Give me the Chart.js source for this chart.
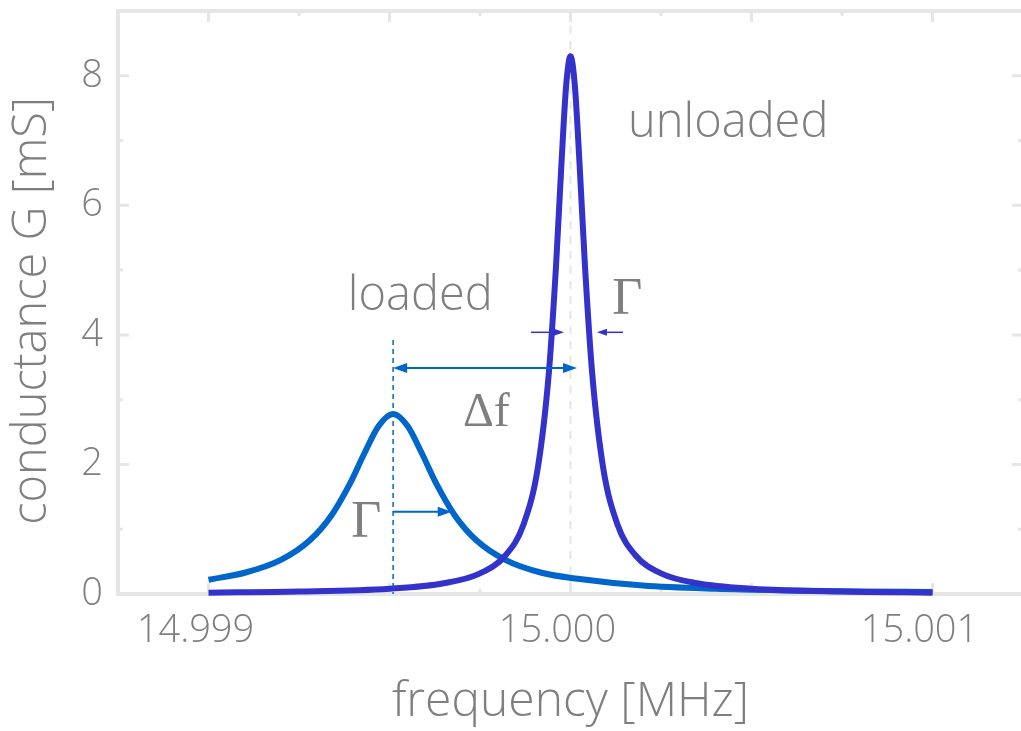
<!DOCTYPE html>
<html>
<head>
<meta charset="utf-8">
<script src="https://cdn.jsdelivr.net/npm/chart.js@4.4.1/dist/chart.umd.min.js"></script>
<style>
  html, body { margin: 0; padding: 0; background: #fff; overflow: hidden; }
  #wrap { width: 1023px; height: 731px; }
</style>
</head>
<body>
<div id="wrap"><canvas id="chart"></canvas></div>
<script>
// frequency [MHz] and conductance G [mS]
const unloadedFreq = [14.999000, 14.999250, 14.999500, 14.999650, 14.999750, 14.999820, 14.999870, 14.999910, 14.999940, 14.999960, 14.999975, 14.999988, 15.000000, 15.000012, 15.000025, 15.000040, 15.000060, 15.000090, 15.000130, 15.000180, 15.000250, 15.000350, 15.000500, 15.000750, 15.001000];
const unloadedG = [0.021, 0.037, 0.082, 0.166, 0.319, 0.595, 1.070, 1.958, 3.402, 5.061, 6.640, 7.848, 8.30, 7.848, 6.640, 5.061, 3.402, 1.958, 1.070, 0.595, 0.319, 0.166, 0.082, 0.037, 0.021];

const loadedFreq = [14.999000, 14.999100, 14.999200, 14.999280, 14.999340, 14.999390, 14.999430, 14.999470, 14.999510, 14.999550, 14.999590, 14.999630, 14.999680, 14.999740, 14.999820, 14.999920, 15.000020, 15.000200, 15.000400, 15.000600, 15.000800, 15.001000];
const loadedG = [0.221, 0.328, 0.527, 0.830, 1.217, 1.695, 2.165, 2.595, 2.78, 2.595, 2.165, 1.695, 1.217, 0.830, 0.527, 0.328, 0.235, 0.130, 0.080, 0.055, 0.040, 0.030];

const xTickLabels = [14.999, 15.000, 15.001];
const yTickLabels = [0, 2, 4, 6, 8];

const TEXT_GREY = '#7f7f7f';
const FRAME_GREY = '#e6e6e6';
const LOADED_BLUE = '#0066cc';
const UNLOADED_BLUE = '#3333cc';
const SANS = "'Open Sans', sans-serif";
const SERIF = "'Liberation Serif', 'DejaVu Serif', serif";

function toPoints(xs, ys) {
    return xs.map((x, i) => ({ x: x, y: ys[i] }));
}

function arrow(ctx, x1, y1, x2, y2, color, width, headLen, headHalf) {
    const ang = Math.atan2(y2 - y1, x2 - x1);
    ctx.save();
    ctx.strokeStyle = color;
    ctx.fillStyle = color;
    ctx.lineWidth = width;
    ctx.beginPath();
    ctx.moveTo(x1, y1);
    ctx.lineTo(x2 - Math.cos(ang) * headLen * 0.8, y2 - Math.sin(ang) * headLen * 0.8);
    ctx.stroke();
    ctx.translate(x2, y2);
    ctx.rotate(ang);
    ctx.beginPath();
    ctx.moveTo(0, 0);
    ctx.lineTo(-headLen, -headHalf);
    ctx.lineTo(-headLen, headHalf);
    ctx.closePath();
    ctx.fill();
    ctx.restore();
}

// frame with inside tick marks (under the curves)
const framePlugin = {
    id: 'frame',
    beforeDatasetsDraw(chart) {
        const ctx = chart.ctx;
        const a = chart.chartArea;
        const xs = chart.scales.x;
        const ys = chart.scales.y;
        ctx.save();
        ctx.strokeStyle = FRAME_GREY;

        // dashed line at 15.000
        ctx.lineWidth = 2;
        ctx.setLineDash([8, 7]);
        ctx.beginPath();
        ctx.moveTo(xs.getPixelForValue(15.000), a.top);
        ctx.lineTo(xs.getPixelForValue(15.000), a.bottom);
        ctx.stroke();
        ctx.setLineDash([]);

        ctx.lineWidth = 3;
        for (let v = 14.99875; v <= 15.00125 + 1e-9; v += 0.00025) {
            const major = Math.abs(v / 0.0005 - Math.round(v / 0.0005)) < 1e-3;
            const len = major ? 11 : 5;
            const px = xs.getPixelForValue(v);
            if (px <= a.left + 2 || px >= a.right - 2) continue;
            ctx.beginPath();
            ctx.moveTo(px, a.top);
            ctx.lineTo(px, a.top + len);
            ctx.moveTo(px, a.bottom);
            ctx.lineTo(px, a.bottom - len);
            ctx.stroke();
        }
        for (let v = 1; v <= 8; v++) {
            const len = v % 2 === 0 ? 11 : 5;
            const py = ys.getPixelForValue(v);
            ctx.beginPath();
            ctx.moveTo(a.left, py);
            ctx.lineTo(a.left + len, py);
            ctx.moveTo(a.right, py);
            ctx.lineTo(a.right - len, py);
            ctx.stroke();
        }

        ctx.lineWidth = 4;
        ctx.beginPath();
        ctx.moveTo(a.right, a.top);
        ctx.lineTo(a.left, a.top);
        ctx.lineTo(a.left, a.bottom);
        ctx.lineTo(a.right, a.bottom);
        ctx.stroke();
        ctx.restore();
    }
};

// labels, arrows and guide lines on top of the curves
const annotationPlugin = {
    id: 'notes',
    afterDatasetsDraw(chart) {
        const ctx = chart.ctx;
        const xs = chart.scales.x;
        const ys = chart.scales.y;
        const X = v => xs.getPixelForValue(v);
        const Y = v => ys.getPixelForValue(v);
        const loadedCentre = 14.99951;

        ctx.save();
        // loaded resonance marker
        ctx.strokeStyle = LOADED_BLUE;
        ctx.lineWidth = 1.5;
        ctx.setLineDash([5, 4]);
        ctx.beginPath();
        ctx.moveTo(X(loadedCentre), Y(3.92));
        ctx.lineTo(X(loadedCentre), Y(0));
        ctx.stroke();
        ctx.setLineDash([]);

        // delta f double arrow
        arrow(ctx, X(14.99975), Y(3.49), X(loadedCentre), Y(3.49), LOADED_BLUE, 2, 14, 5);
        arrow(ctx, X(14.99975), Y(3.49), X(15.000018), Y(3.49), LOADED_BLUE, 2, 14, 5);
        // loaded width
        arrow(ctx, X(loadedCentre), Y(1.27), X(14.999672), Y(1.27), LOADED_BLUE, 2, 14, 5);
        // unloaded width
        arrow(ctx, X(14.999891), Y(4.04), X(14.999982), Y(4.04), UNLOADED_BLUE, 1.5, 10, 3.5);
        arrow(ctx, X(15.000145), Y(4.04), X(15.000073), Y(4.04), UNLOADED_BLUE, 1.5, 10, 3.5);

        ctx.fillStyle = TEXT_GREY;
        ctx.textBaseline = 'alphabetic';
        ctx.textAlign = 'left';
        ctx.font = '300 47px ' + SANS;
        ctx.fillText('unloaded', X(15.000159), Y(7.05));
        ctx.fillText('loaded', X(14.999385), Y(4.38));
        ctx.font = '48px ' + SERIF;
        ctx.fillText('Δf', X(14.999703), Y(2.59));
        ctx.font = '52px ' + SERIF;
        ctx.fillText('Γ', X(15.000115), Y(4.32));
        ctx.fillText('Γ', X(14.999394), Y(0.88));
        ctx.restore();
    }
};

// y axis title, placed a little below the plot centre as in the original
const yTitlePlugin = {
    id: 'yTitle',
    afterDraw(chart) {
        const ctx = chart.ctx;
        ctx.save();
        ctx.translate(33, 311);
        ctx.rotate(-Math.PI / 2);
        ctx.fillStyle = TEXT_GREY;
        ctx.font = '300 47px ' + SANS;
        ctx.textAlign = 'center';
        ctx.textBaseline = 'middle';
        ctx.fillText('conductance G [mS]', 0, 0);
        ctx.restore();
    }
};

const ctx = document.getElementById('chart').getContext('2d');
const chart = new Chart(ctx, {
    type: 'line',
    data: {
        datasets: [{
            label: 'unloaded',
            data: toPoints(unloadedFreq, unloadedG),
            borderColor: UNLOADED_BLUE,
            borderWidth: 6,
            pointRadius: 0,
            cubicInterpolationMode: 'monotone',
            clip: false
        }, {
            label: 'loaded',
            data: toPoints(loadedFreq, loadedG),
            borderColor: LOADED_BLUE,
            borderWidth: 6,
            pointRadius: 0,
            cubicInterpolationMode: 'monotone',
            clip: false
        }]
    },
    options: {
        responsive: true,
        maintainAspectRatio: false,
        animation: false,
        events: [],
        layout: { padding: { top: 11, right: 0, left: 0, bottom: 0 } },
        plugins: {
            legend: { display: false },
            tooltip: { enabled: false }
        },
        scales: {
            x: {
                type: 'linear',
                min: 14.99875,
                max: 15.00125,
                border: { display: false },
                grid: { display: false, drawTicks: false },
                afterBuildTicks: scale => {
                    scale.ticks = xTickLabels.map(v => ({ value: v }));
                },
                afterFit: scale => {
                    scale.height = 137;
                    scale.paddingLeft = 0;
                    scale.paddingRight = 0;
                },
                ticks: {
                    color: TEXT_GREY,
                    font: { family: SANS, size: 38, weight: 300 },
                    padding: 14,
                    labelOffset: -13,
                    maxRotation: 0,
                    callback: v => v.toFixed(3)
                },
                title: {
                    display: true,
                    text: 'frequency [MHz]',
                    color: TEXT_GREY,
                    font: { family: SANS, size: 48, weight: 300 },
                    padding: { top: 0, bottom: 0 }
                }
            },
            y: {
                min: 0,
                max: 9,
                border: { display: false },
                grid: { display: false, drawTicks: false },
                afterBuildTicks: scale => {
                    scale.ticks = yTickLabels.map(v => ({ value: v }));
                },
                afterFit: scale => {
                    scale.width = 118;
                    scale.paddingTop = 0;
                    scale.paddingBottom = 0;
                },
                ticks: {
                    color: TEXT_GREY,
                    font: { family: SANS, size: 38, weight: 300 },
                    padding: 15,
                    callback: v => String(v)
                }
            }
        }
    },
    plugins: [framePlugin, annotationPlugin, yTitlePlugin]
});
</script>
</body>
</html>
